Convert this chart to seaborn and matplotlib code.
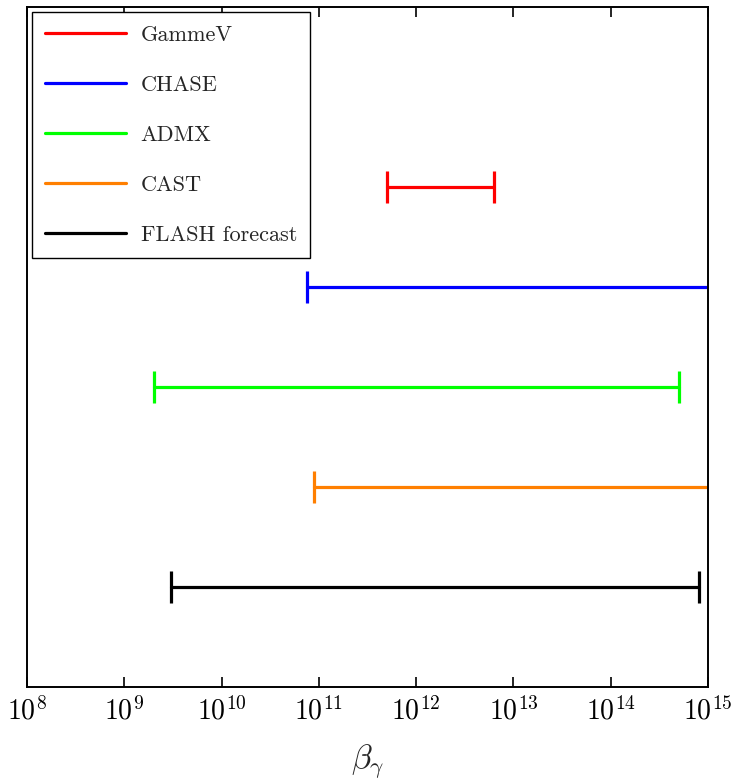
import matplotlib
matplotlib.use("Agg")
import matplotlib.pyplot as plt
import seaborn as sns
import pandas as pd
import numpy as np

# ---- data ----
experiments = ["GammeV", "CHASE", "ADMX", "CAST", "FLASH forecast"]
beta_low = [5e11, 7.5e10, 2e9, 9e10, 3e9]
beta_high = [6.3e12, 1e16, 5e14, 1e16, 8e14]   # CHASE / CAST extend beyond the plotted range
row_y = [5, 4, 3, 2, 1]
colors = ["#ff0000", "#0000ff", "#00ff00", "#ff7f00", "#000000"]
xticks = [1e8, 1e9, 1e10, 1e11, 1e12, 1e13, 1e14, 1e15]

sns.set_theme(style="white")
plt.rcParams["mathtext.fontset"] = "cm"
plt.rcParams["font.family"] = ["cmr10", "DejaVu Serif"]
plt.rcParams["axes.formatter.use_mathtext"] = True

rows = []
for e, lo, hi, y in zip(experiments, beta_low, beta_high, row_y):
    rows.append({"experiment": e, "beta": lo, "y": y, "end": "low"})
    rows.append({"experiment": e, "beta": hi, "y": y, "end": "high"})
df = pd.DataFrame(rows)
palette = dict(zip(experiments, colors))

fig = plt.figure(figsize=(7.33, 7.83), dpi=100)
ax = fig.add_axes([27 / 733, 1 - 687 / 783, (708 - 27) / 733, 680 / 783])
ax.set_xscale("log")

sns.lineplot(data=df, x="beta", y="y", hue="experiment", hue_order=experiments,
             palette=palette, units="experiment", estimator=None, sort=False,
             linewidth=2.3, ax=ax, legend=False)
sns.scatterplot(data=df, x="beta", y="y", hue="experiment", hue_order=experiments,
                palette=palette, marker="|", s=23 ** 2, linewidth=2.3, ax=ax,
                legend=False, zorder=3)

ax.set_xlim(1e8, 1e15)
ax.set_ylim(0, 6.8)
ax.set_xticks(xticks)
ax.set_xticklabels([r"$10^{%d}$" % int(np.log10(t)) for t in xticks], fontsize=20)
ax.minorticks_off()
ax.xaxis.set_minor_locator(matplotlib.ticker.NullLocator())
ax.set_yticks([])
ax.set_ylabel("")
ax.set_xlabel(r"$\beta_\gamma$", fontsize=24, labelpad=13)
ax.tick_params(axis="x", which="major", direction="in", length=7, width=1.2,
               top=True, bottom=True, pad=7, colors="black")
for sp in ax.spines.values():
    sp.set_color("black")
    sp.set_linewidth(1.4)
    sp.set_visible(True)

handles = [matplotlib.lines.Line2D([], [], color=c, lw=2.3) for c in colors]
leg = ax.legend(handles, experiments, loc="upper left", prop={"family": "cmr10", "size": 16},
                frameon=True, fancybox=False, edgecolor="black", framealpha=1,
                labelspacing=1.37, handlelength=3.65, handletextpad=0.65,
                borderpad=0.6, borderaxespad=0.22)
leg.get_frame().set_linewidth(1.0)

fig.savefig("out.png", dpi=100)
